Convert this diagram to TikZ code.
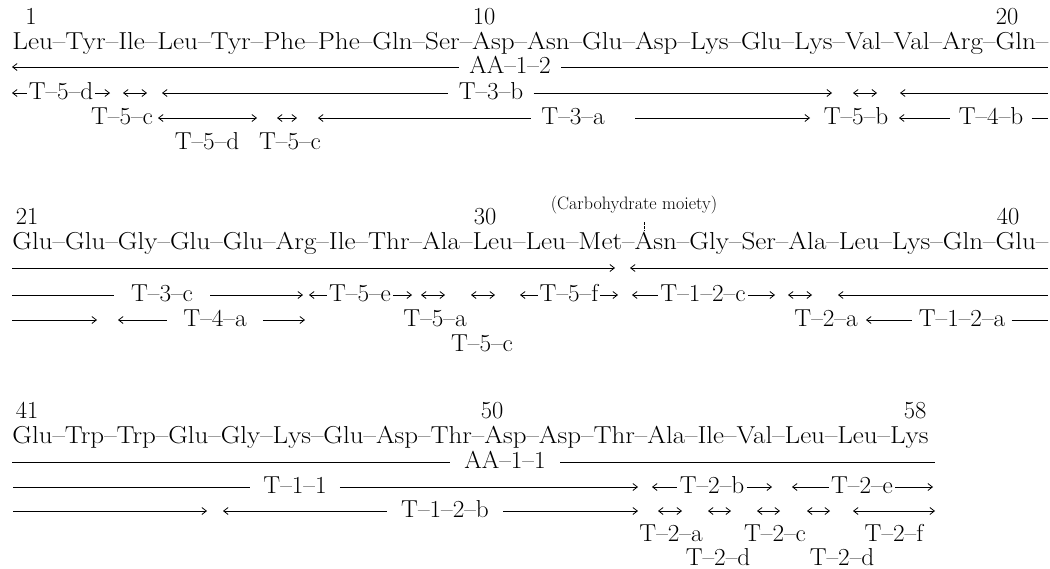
\documentclass[tikz,border=0pt]{standalone}
\usepackage{graphicx}
\usetikzlibrary{arrows.meta}
\newcommand{\fs}{\fontsize{24.5}{28}\selectfont}
\newcommand{\hstr}[1]{\scalebox{1.03}[1]{#1}}
\tikzset{
  lbl/.style={font=\fs, inner ysep=0pt, inner xsep=#1, anchor=base},
  lbl/.default=2pt,
  num/.style={font=\fs, inner sep=0pt, anchor=base},
  seqrow/.style={font=\fs, inner sep=0pt, anchor=base west},
  carbo/.style={font=\fontsize{18}{20}\selectfont, inner sep=0pt},
}
\begin{document}
\begin{tikzpicture}[x=1pt,y=-1pt,line width=0.8pt,>={Straight Barb[length=4.5pt,width=7pt]}]
\useasboundingbox (0,0) rectangle (1050,568);
%% ================= Block 1 =================
\node[num] (n1) at (31,24) {1};
\node[num] (n10) at (484,24) {10};
\node[num] (n20) at (1007,24) {20};
\node[seqrow] (s1) at (12,49) {\resizebox{1036pt}{\height}{Leu–Tyr–Ile–Leu–Tyr–Phe–Phe–Gln–Ser–Asp–Asn–Glu–Asp–Lys–Glu–Lys–Val–Val–Arg–Gln–}};
% AA-1-2 (y=67)
\node[lbl=10pt] (aa12) at (510,73) {\hstr{AA–1–2}};
\coordinate (a1) at (12,67); \coordinate (a2) at (1048,67);
\draw[<-] (a1) -- (a1 -| aa12.west);
\draw (aa12.east |- a2) -- (a2);
% L1 (y=93)
\node[lbl=1.5pt] (t5d) at (61,99) {\hstr{T–5–d}};
\coordinate (b1) at (12,93); \coordinate (b2) at (110,93);
\draw[<-] (b1) -- (b1 -| t5d.west);
\draw[->] (t5d.east |- b2) -- (b2);
\coordinate (b3) at (123,93); \coordinate (b4) at (147,93);
\draw[<->] (b3) -- (b4);
\node[lbl=10pt] (t3b) at (491,99) {\hstr{T–3–b}};
\coordinate (b5) at (162,93); \coordinate (b6) at (832,93);
\draw[<-] (b5) -- (b5 -| t3b.west);
\draw[->] (t3b.east |- b6) -- (b6);
\coordinate (b7) at (853,93); \coordinate (b8) at (877,93);
\draw[<->] (b7) -- (b8);
\coordinate (b9) at (900,93); \coordinate (b10) at (1048,93);
\draw[<-] (b9) -- (b10);
% L2 (y=118)
\node[lbl] (t5c1) at (122,124) {\hstr{T–5–c}};
\coordinate (c1) at (158,118); \coordinate (c2) at (257,118);
\draw[<->] (c1) -- (c2);
\coordinate (c3) at (277,118); \coordinate (c4) at (297,118);
\draw[<->] (c3) -- (c4);
\node[lbl=10pt] (t3a) at (573,124) {\hstr{T–3–a}};
\coordinate (c5) at (318,118); \coordinate (c6a) at (635,118); \coordinate (c6) at (810,118);
\draw[<-] (c5) -- (c5 -| t3a.west);
\draw[->] (c6a) -- (c6);
\node[lbl] (t5b) at (856,124) {\hstr{T–5–b}};
\node[lbl=8pt] (t4b) at (991,124) {\hstr{T–4–b}};
\coordinate (c7) at (899,118); \coordinate (c8) at (1048,118);
\draw[<-] (c7) -- (c7 -| t4b.west);
\draw (t4b.east |- c8) -- (c8);
% L3 (y=143)
\node[lbl] (t5d2) at (207,149) {\hstr{T–5–d}};
\node[lbl] (t5c2) at (290,149) {\hstr{T–5–c}};
%% ================= Block 2 =================
\node[carbo] (carb) at (634,205) {(Carbohydrate moiety)};
\coordinate (tk1) at (644,222); \coordinate (tk2) at (644,231);
\draw[line width=0.6pt, dash pattern=on 2.5pt off 1.5pt] (tk1) -- (tk2);
\node[num] (n21) at (27,224) {21};
\node[num] (n30) at (485,224) {30};
\node[num] (n40) at (1008,224) {40};
\node[seqrow] (s2) at (12,249) {\resizebox{1036pt}{\height}{Glu–Glu–Gly–Glu–Glu–Arg–Ile–Thr–Ala–Leu–Leu–Met–Asn–Gly–Ser–Ala–Leu–Lys–Gln–Glu–}};
% line row (y=268)
\coordinate (d1) at (12,268); \coordinate (d2) at (615,268);
\draw[->] (d1) -- (d2);
\coordinate (d3) at (630,268); \coordinate (d4) at (1048,268);
\draw[<-] (d3) -- (d4);
% L1 (y=295)
\node[lbl=17pt] (t3c) at (162,301) {\hstr{T–3–c}};
\coordinate (e1) at (12,295); \coordinate (e2) at (303,295);
\draw (e1) -- (e1 -| t3c.west);
\draw[->] (t3c.east |- e2) -- (e2);
\node[lbl=1.5pt] (t5e) at (360,301) {\hstr{T–5–e}};
\coordinate (e3) at (309,295); \coordinate (e4) at (412,295);
\draw[<-] (e3) -- (e3 -| t5e.west);
\draw[->] (t5e.east |- e4) -- (e4);
\coordinate (e5) at (421,295); \coordinate (e6) at (445,295);
\draw[<->] (e5) -- (e6);
\coordinate (e7) at (471,295); \coordinate (e8) at (495,295);
\draw[<->] (e7) -- (e8);
\node[lbl=1.5pt] (t5f) at (569,301) {\hstr{T–5–f}};
\coordinate (e9) at (520,295); \coordinate (e10) at (618,295);
\draw[<-] (e9) -- (e9 -| t5f.west);
\draw[->] (t5f.east |- e10) -- (e10);
\node[lbl=2pt] (t12c) at (703,301) {\hstr{T–1–2–c}};
\coordinate (e11) at (632,295); \coordinate (e12) at (775,295);
\draw[<-] (e11) -- (e11 -| t12c.west);
\draw[->] (t12c.east |- e12) -- (e12);
\coordinate (e13) at (788,295); \coordinate (e14) at (812,295);
\draw[<->] (e13) -- (e14);
\coordinate (e15) at (838,295); \coordinate (e16) at (1048,295);
\draw[<-] (e15) -- (e16);
% L2 (y=320)
\coordinate (f1) at (12,320); \coordinate (f2) at (97,320);
\draw[->] (f1) -- (f2);
\node[lbl=16pt] (t4a) at (215,326) {\hstr{T–4–a}};
\coordinate (f3) at (118,320); \coordinate (f4) at (305,320);
\draw[<-] (f3) -- (f3 -| t4a.west);
\draw[->] (t4a.east |- f4) -- (f4);
\node[lbl] (t5a) at (435,326) {\hstr{T–5–a}};
\node[lbl] (t2a1) at (826,326) {\hstr{T–2–a}};
\node[lbl=6pt] (t12a) at (962,326) {\hstr{T–1–2–a}};
\coordinate (f5) at (866,320); \coordinate (f6) at (1048,320);
\draw[<-] (f5) -- (f5 -| t12a.west);
\draw (t12a.east |- f6) -- (f6);
% L3 (y=345)
\node[lbl] (t5c3) at (482,351) {\hstr{T–5–c}};
%% ================= Block 3 =================
\node[num] (n41) at (27,418) {41};
\node[num] (n50) at (492,418) {50};
\node[num] (n58) at (915,418) {58};
\node[seqrow] (s3) at (12,443) {\resizebox{916pt}{\height}{Glu–Trp–Trp–Glu–Gly–Lys–Glu–Asp–Thr–Asp–Asp–Thr–Ala–Ile–Val–Leu–Leu–Lys}};
% AA-1-1 (y=462)
\node[lbl=14pt] (aa11) at (505,468) {\hstr{AA–1–1}};
\coordinate (g1) at (12,462); \coordinate (g2) at (935,462);
\draw (g1) -- (g1 -| aa11.west);
\draw (aa11.east |- g2) -- (g2);
% L1 (y=487)
\node[lbl=13pt] (t11) at (295,493) {\hstr{T–1–1}};
\coordinate (h1) at (13,487); \coordinate (h2) at (638,487);
\draw (h1) -- (h1 -| t11.west);
\draw[->] (t11.east |- h2) -- (h2);
\node[lbl=2pt] (t2b) at (712,493) {\hstr{T–2–b}};
\coordinate (h3) at (652,487); \coordinate (h4) at (772,487);
\draw[<-] (h3) -- (h3 -| t2b.west);
\draw[->] (t2b.east |- h4) -- (h4);
\node[lbl=2pt] (t2e) at (862,493) {\hstr{T–2–e}};
\coordinate (h5) at (792,487); \coordinate (h6) at (933,487);
\draw[<-] (h5) -- (h5 -| t2e.west);
\draw[->] (t2e.east |- h6) -- (h6);
% L2 (y=511)
\coordinate (i1) at (13,511); \coordinate (i2) at (207,511);
\draw[->] (i1) -- (i2);
\node[lbl=14pt] (t12b) at (445,517) {\hstr{T–1–2–b}};
\coordinate (i3) at (223,511); \coordinate (i4) at (638,511);
\draw[<-] (i3) -- (i3 -| t12b.west);
\draw[->] (t12b.east |- i4) -- (i4);
\coordinate (i5) at (658,511); \coordinate (i6) at (682,511);
\draw[<->] (i5) -- (i6);
\coordinate (i7) at (708,511); \coordinate (i8) at (731,511);
\draw[<->] (i7) -- (i8);
\coordinate (i9) at (757,511); \coordinate (i10) at (780,511);
\draw[<->] (i9) -- (i10);
\coordinate (i11) at (807,511); \coordinate (i12) at (830,511);
\draw[<->] (i11) -- (i12);
\coordinate (i13) at (853,511); \coordinate (i14) at (935,511);
\draw[<->] (i13) -- (i14);
% L3 (y=535)
\node[lbl] (t2a2) at (671,541) {\hstr{T–2–a}};
\node[lbl] (t2c) at (775,541) {\hstr{T–2–c}};
\node[lbl] (t2f) at (894,541) {\hstr{T–2–f}};
% L4 (y=559)
\node[lbl] (t2d1) at (718,565) {\hstr{T–2–d}};
\node[lbl] (t2d2) at (842,565) {\hstr{T–2–d}};
\end{tikzpicture}
\end{document}
